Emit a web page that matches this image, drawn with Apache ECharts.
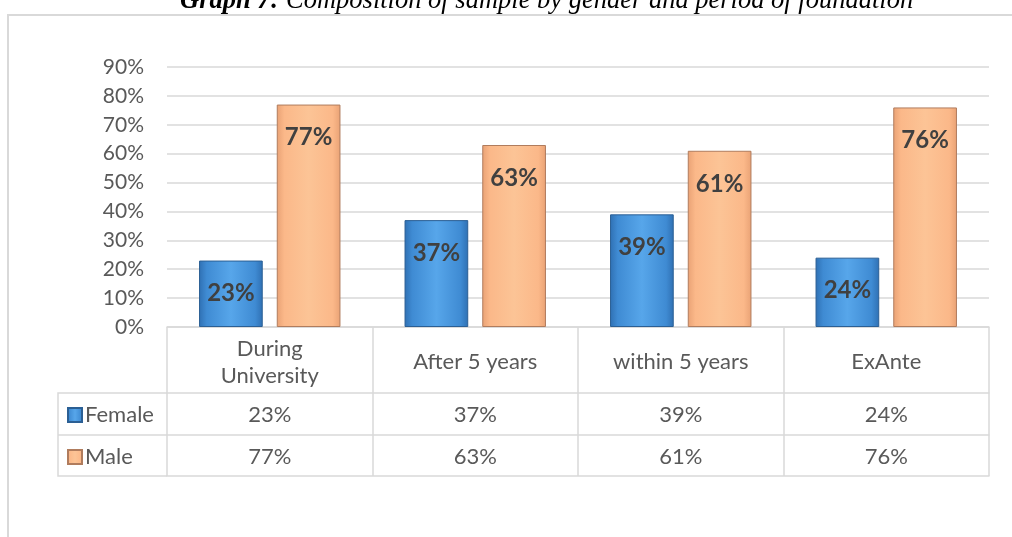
<!DOCTYPE html>
<html>
<head>
<meta charset="utf-8">
<script src="https://cdn.jsdelivr.net/npm/echarts@6/dist/echarts.min.js"></script>
<style>html,body{margin:0;padding:0;background:#fff}#c{width:1012px;height:537px}</style>
</head>
<body>
<div id="c"></div>
<script>
var categories = ['During\nUniversity', 'After 5 years', 'within 5 years', 'ExAnte'];
var seriesNames = ['Female', 'Male'];
var femaleValues = [23, 37, 39, 24];
var maleValues = [77, 63, 61, 76];
var yTicks = [0, 10, 20, 30, 40, 50, 60, 70, 80, 90];
var titleBold = 'Graph 7:';
var titleRest = ' Composition of sample by gender and period of foundation';

var FONT = 'Lato';
var GRID_C = '#d9d9d9';
var TXT = '#595959';
var pct = function (v) { return v + '%'; };

function barColor(light, main, dark) {
  return new echarts.graphic.LinearGradient(0, 0, 1, 0, [
    {offset: 0, color: dark}, {offset: 0.12, color: main},
    {offset: 0.5, color: light}, {offset: 0.88, color: main}, {offset: 1, color: dark}
  ]);
}

var chart = echarts.init(document.getElementById('c'), null, {renderer: 'canvas'});

function tableAxis(idx, offset, rowH, labels, margin) {
  return {
    type: 'category', gridIndex: 0, position: 'bottom', offset: offset,
    data: categories, boundaryGap: true,
    axisLine: {show: true, lineStyle: {color: GRID_C, width: 1.5}},
    axisTick: {show: rowH > 0, length: rowH, interval: 0, lineStyle: {color: GRID_C, width: 1.5}},
    axisLabel: labels ? {
      show: true, interval: 0, margin: margin, verticalAlign: 'middle',
      fontFamily: FONT, fontSize: 22, color: TXT, lineHeight: 27,
      formatter: function (v, i) { return labels(v, i); }
    } : {show: false},
    splitLine: {show: false}
  };
}

var option = {
  animation: false,
  backgroundColor: '#fff',
  title: {
    text: '{b|' + titleBold + '}' + titleRest,
    left: 175, top: -17,
    textStyle: {
      fontFamily: 'Liberation Serif', fontStyle: 'italic', fontWeight: 'normal', fontSize: 26.5, color: '#000',
      rich: {b: {fontFamily: 'Liberation Serif', fontStyle: 'italic', fontWeight: 'bold', fontSize: 26.5, color: '#000'}}
    }
  },
  legend: {
    orient: 'vertical', left: 67, top: 404, padding: 0,
    itemWidth: 14, itemHeight: 14, itemGap: 20, icon: 'rect',
    textStyle: {fontFamily: FONT, fontSize: 22, color: TXT, lineHeight: 22, padding: [0, 0, 0, -2]},
    data: seriesNames
  },
  grid: {left: 167, right: 23, top: 67, bottom: 210, containLabel: false},
  xAxis: [
    tableAxis(0, 0, 66, function (v) { return v; }, 35),
    tableAxis(1, 66, 42, function (v, i) { return pct(femaleValues[i]); }, 22),
    tableAxis(2, 108, 41, function (v, i) { return pct(maleValues[i]); }, 22),
    tableAxis(3, 149, 0, null, 0)
  ],
  yAxis: {
    type: 'value', min: yTicks[0], max: yTicks[yTicks.length - 1], interval: yTicks[1] - yTicks[0],
    axisLine: {show: false}, axisTick: {show: false},
    axisLabel: {fontFamily: FONT, fontSize: 21, color: TXT, margin: 23, formatter: pct},
    splitLine: {lineStyle: {color: GRID_C, width: 1.5}}
  },
  series: [
    {
      name: seriesNames[0], type: 'bar', data: femaleValues, xAxisIndex: 0,
      barWidth: '31%', barGap: '22%',
      itemStyle: {color: barColor('#57a6ea', '#3f8bd3', '#2f70b3'), borderColor: '#2b5f94', borderWidth: 1},
      label: {show: true, position: 'insideTop', distance: 21, formatter: function (p) { return pct(p.value); },
        fontFamily: FONT, fontWeight: 'bold', fontSize: 24, color: '#404040'}
    },
    {
      name: seriesNames[1], type: 'bar', data: maleValues, xAxisIndex: 0,
      barWidth: '31%', barGap: '22%',
      itemStyle: {color: barColor('#fcc496', '#fbb889', '#e9a275'), borderColor: '#b07c5d', borderWidth: 1},
      label: {show: true, position: 'insideTop', distance: 21, formatter: function (p) { return pct(p.value); },
        fontFamily: FONT, fontWeight: 'bold', fontSize: 24, color: '#404040'}
    }
  ],
  graphic: [
    {type: 'rect', silent: true, z: -10, shape: {x: 8, y: 15, width: 1200, height: 700},
      style: {fill: null, stroke: GRID_C, lineWidth: 2}},
    {type: 'polyline', silent: true, shape: {points: [[167, 393], [58, 393], [58, 476], [167, 476]]},
      style: {fill: null, stroke: GRID_C, lineWidth: 1.5}},
    {type: 'line', silent: true, shape: {x1: 58, y1: 435, x2: 167, y2: 435},
      style: {stroke: GRID_C, lineWidth: 1.5}}
  ]
};
chart.setOption(option);
</script>
</body>
</html>
